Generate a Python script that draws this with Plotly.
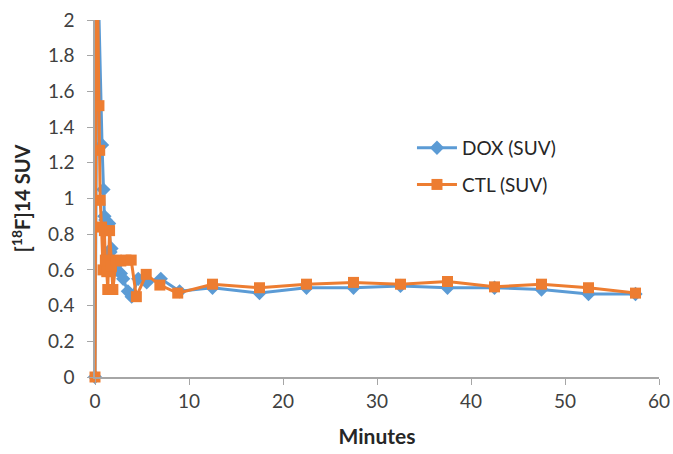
import plotly.graph_objects as go

# Data
dox_minutes = [0, 0.25, 0.75, 0.9, 1.0, 1.1, 1.25, 1.5, 1.65, 1.75, 2.0, 2.25, 2.5,
               2.75, 3.0, 3.5, 3.9, 4.6, 5.5, 7.0, 9.0,
               12.5, 17.5, 22.5, 27.5, 32.5, 37.5, 42.5, 47.5, 52.5, 57.5]
dox_suv = [0, 2.4, 1.30, 1.05, 0.90, 0.88, 0.86, 0.86, 0.70, 0.72, 0.62, 0.60, 0.64,
           0.58, 0.55, 0.48, 0.45, 0.55, 0.53, 0.55, 0.48,
           0.50, 0.47, 0.50, 0.50, 0.51, 0.50, 0.50, 0.49, 0.465, 0.465]

ctl_minutes = [0, 0.17, 0.42, 0.5, 0.55, 0.7, 0.85, 1.0, 1.1, 1.25, 1.36, 1.55, 1.75,
               1.9, 2.25, 2.75, 3.3, 3.85, 4.4, 5.45, 6.9, 8.8,
               12.5, 17.5, 22.5, 27.5, 32.5, 37.5, 42.5, 47.5, 52.5, 57.5]
ctl_suv = [0, 2.6, 1.52, 1.27, 0.99, 0.84, 0.60, 0.82, 0.655, 0.59, 0.49, 0.82, 0.62,
           0.49, 0.655, 0.65, 0.655, 0.655, 0.45, 0.575, 0.515, 0.47,
           0.52, 0.50, 0.52, 0.53, 0.52, 0.535, 0.505, 0.52, 0.50, 0.47]

x_ticks = [0, 10, 20, 30, 40, 50, 60]
y_ticks = [0, 0.2, 0.4, 0.6, 0.8, 1, 1.2, 1.4, 1.6, 1.8, 2]
y_tick_text = ["0", "0.2", "0.4", "0.6", "0.8", "1", "1.2", "1.4", "1.6", "1.8", "2"]

BLUE = "#5B9BD5"
ORANGE = "#ED7D31"
FONT = "Lato"

fig = go.Figure()
fig.add_trace(go.Scatter(
    x=dox_minutes, y=dox_suv, mode="lines+markers", name="DOX (SUV)",
    legendgroup="dox", cliponaxis=False,
    line=dict(color=BLUE, width=3),
    marker=dict(symbol="diamond", size=11, color=BLUE),
))
fig.add_trace(go.Scatter(
    x=ctl_minutes, y=ctl_suv, mode="lines+markers", name="CTL (SUV)",
    legendgroup="ctl", cliponaxis=False,
    line=dict(color=ORANGE, width=3),
    marker=dict(symbol="square", size=11, color=ORANGE),
))

fig.update_layout(
    width=673, height=454,
    margin=dict(l=95, r=14, t=20, b=77),
    paper_bgcolor="white", plot_bgcolor="white",
    font=dict(family=FONT, size=19, color="#404040"),
    showlegend=True,
    legend=dict(x=0.562, y=0.695, xanchor="left", yanchor="top",
                bgcolor="rgba(0,0,0,0)", font=dict(size=19, color="#262626"),
                traceorder="grouped", tracegroupgap=9, itemwidth=40),
    xaxis=dict(
        range=[0, 60], tickvals=x_ticks, ticks="outside", ticklen=6,
        automargin=False,
        tickcolor="#A6A6A6", showline=True, linecolor="#A6A6A6", linewidth=1.5,
        showgrid=False, zeroline=False,
        tickfont=dict(size=19, color="#404040"),
        title=dict(text="<b>Minutes</b>", font=dict(size=21, color="#262626"), standoff=19),
    ),
    yaxis=dict(
        range=[0, 2], tickvals=y_ticks, ticktext=y_tick_text, ticks="outside", ticklen=6,
        ticklabelstandoff=9, automargin=False,
        tickcolor="#A6A6A6", showline=True, linecolor="#A6A6A6", linewidth=1.5,
        showgrid=False, zeroline=False,
        tickfont=dict(size=19, color="#404040"),
        title=dict(text="<b>[<sup>18</sup>F]14 SUV</b>", font=dict(size=20, color="#262626"), standoff=12),
    ),
)

fig.write_html("out.html")
